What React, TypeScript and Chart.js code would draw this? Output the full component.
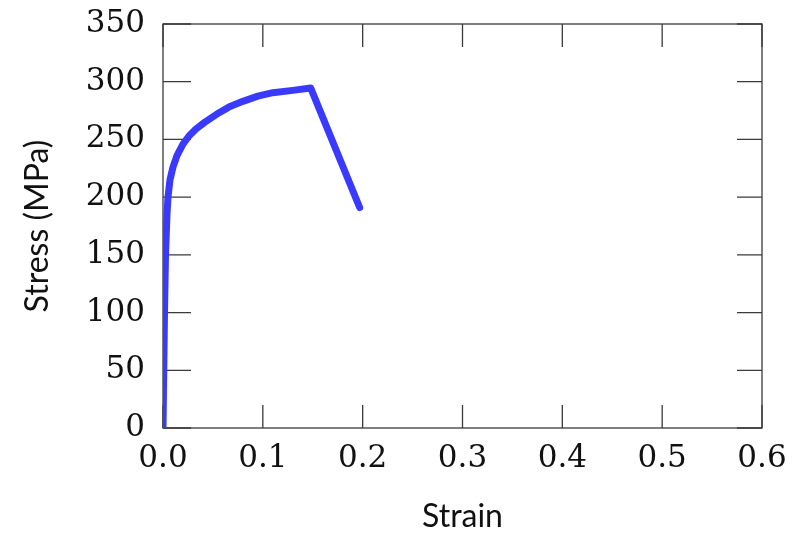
import React, { useEffect, useRef } from "react";
import { Chart, registerables } from "chart.js";

Chart.register(...registerables);

const strain = [0, 0.0015, 0.0025, 0.004, 0.005, 0.007, 0.01, 0.014, 0.02, 0.026, 0.033, 0.042, 0.054, 0.066, 0.08, 0.095, 0.11, 0.13, 0.148, 0.197];
const stress = [0, 100, 150, 185, 200, 215, 226, 236, 246, 253, 259, 265, 272, 278, 283, 287.5, 290.5, 292.5, 294.5, 191];
const xTicks = [0, 0.1, 0.2, 0.3, 0.4, 0.5, 0.6];
const yTicks = [0, 50, 100, 150, 200, 250, 300, 350];

const innerTicks = {
  id: "innerTicks",
  beforeDatasetsDraw(chart: any) {
    const { ctx, chartArea: a, scales } = chart;
    const xs = scales.x;
    const ys = scales.y;
    ctx.save();
    ctx.strokeStyle = "#3a3a3a";
    ctx.lineWidth = 1.3;
    ctx.beginPath();
    xTicks.forEach((v) => {
      const px = xs.getPixelForValue(v);
      ctx.moveTo(px, a.bottom);
      ctx.lineTo(px, a.bottom - 23);
      ctx.moveTo(px, a.top);
      ctx.lineTo(px, a.top + 23);
    });
    yTicks.forEach((v) => {
      const py = ys.getPixelForValue(v);
      ctx.moveTo(a.left, py);
      ctx.lineTo(a.left + 28, py);
      ctx.moveTo(a.right, py);
      ctx.lineTo(a.right - 25, py);
    });
    ctx.stroke();
    ctx.strokeRect(a.left, a.top, a.right - a.left, a.bottom - a.top);
    ctx.restore();
  },
};

export default function App() {
  const ref = useRef<HTMLCanvasElement>(null);
  useEffect(() => {
    if (!ref.current) return;
    const chart = new Chart(ref.current, {
      type: "line",
      data: {
        datasets: [
          {
            data: strain.map((s, i) => ({ x: s, y: stress[i] })),
            borderColor: "#3a3aff",
            borderWidth: 7,
            borderCapStyle: "round",
            borderJoinStyle: "round",
            pointRadius: 0,
            tension: 0,
            fill: false,
          },
        ],
      },
      options: {
        animation: false,
        responsive: false,
        maintainAspectRatio: false,
        layout: { padding: { top: 24, right: 39, left: 0, bottom: 0 } },
        plugins: { legend: { display: false }, tooltip: { enabled: false } },
        scales: {
          x: {
            type: "linear",
            min: 0,
            max: 0.6,
            afterBuildTicks: (s: any) => {
              s.ticks = xTicks.map((v) => ({ value: v }));
            },
            afterFit: (s: any) => {
              s.height = 108;
              s.paddingLeft = 0;
              s.paddingRight = 0;
            },
            grid: { display: false, drawTicks: false },
            border: { display: false },
            ticks: {
              padding: 12,
              color: "#111",
              font: { family: "DejaVu Serif", size: 31 },
              callback: (v: any) => Number(v).toFixed(1),
              maxRotation: 0,
              autoSkip: false,
            },
            title: {
              display: true,
              text: "Strain",
              color: "#111",
              font: { family: "Lato", size: 32 },
              padding: { top: 0, bottom: 0 },
            },
          },
          y: {
            min: 0,
            max: 350,
            afterBuildTicks: (s: any) => {
              s.ticks = yTicks.map((v) => ({ value: v }));
            },
            afterFit: (s: any) => {
              s.width = 163;
              s.paddingTop = 0;
              s.paddingBottom = 0;
            },
            grid: { display: false, drawTicks: false },
            border: { display: false },
            ticks: {
              padding: 18,
              color: "#111",
              font: { family: "DejaVu Serif", size: 31 },
              autoSkip: false,
            },
            title: {
              display: true,
              text: "Stress (MPa)",
              color: "#111",
              font: { family: "Lato", size: 32 },
              padding: { top: 18, bottom: 0 },
            },
          },
        },
      },
      plugins: [innerTicks],
    });
    return () => chart.destroy();
  }, []);
  return (
    <div style={{ position: "fixed", left: 0, top: 0, width: 801, height: 536, background: "#fff" }}>
      <canvas ref={ref} width={801} height={536} style={{ display: "block" }} />
    </div>
  );
}
